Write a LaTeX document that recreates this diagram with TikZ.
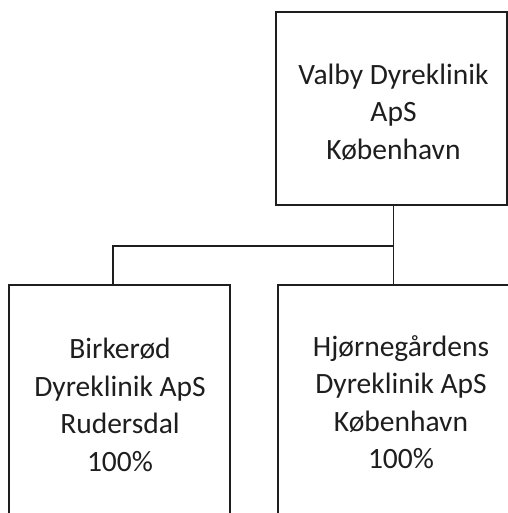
\documentclass[tikz,border=0pt]{standalone}
\usepackage{fontspec}
\setmainfont{Carlito}
\definecolor{ink}{HTML}{1E1E1E}
\begin{document}
\begin{tikzpicture}[x=1pt,y=-1pt,
  box/.style={draw=ink, line width=1.3pt, rectangle, inner sep=0pt},
  lbl/.style={text=ink, align=center, inner sep=0pt, font=\fontsize{29.5}{37.5}\selectfont},
  link/.style={draw=ink, line width=1.3pt}]
\useasboundingbox (0,0) rectangle (507,513);
\node[box, minimum width=231pt, minimum height=193pt] (top) at (391.5,108.5) {};
\node[box, minimum width=221pt, minimum height=255pt] (left) at (119.5,412.5) {};
\node[box, minimum width=232pt, minimum height=255pt] (right) at (394,412.5) {};
\node[lbl] (ttop) at (393.5,112) {Valby Dyreklinik\\ApS\\København};
\node[lbl] (tleft) at (120,405) {Birkerød\\Dyreklinik ApS\\Rudersdal\\100\%};
\node[lbl] (tright) at (401,402) {Hjørnegårdens\\Dyreklinik ApS\\København\\100\%};
\coordinate (j) at (393.5,246);
\coordinate (lj) at (113,246);
\draw[link] (j |- top.south) -- (j) -- (lj) -- (lj |- left.north);
\draw[link] (j) -- (j |- right.north);
\end{tikzpicture}
\end{document}
